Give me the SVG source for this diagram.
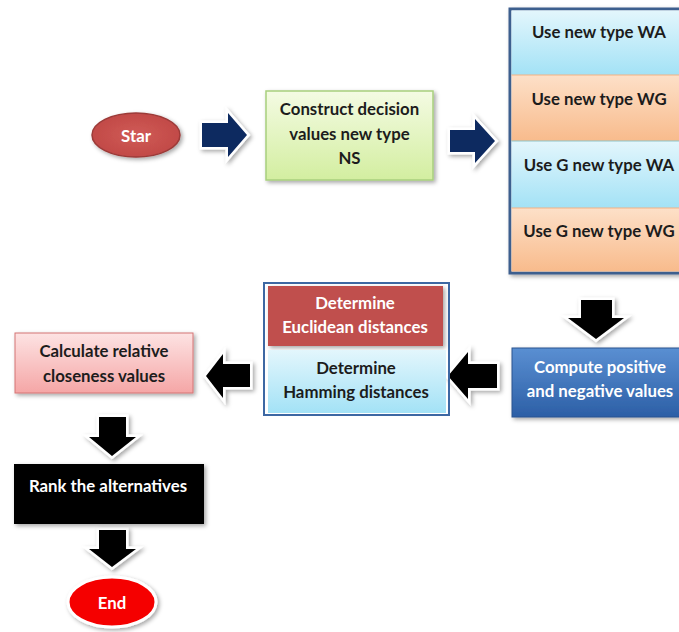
<svg xmlns="http://www.w3.org/2000/svg" width="679" height="632" viewBox="0 0 679 632">
<defs>
<filter id="sh" x="-20%" y="-20%" width="150%" height="150%"><feDropShadow dx="2" dy="2" stdDeviation="2" flood-color="#000" flood-opacity="0.35"/></filter>
<linearGradient id="gGreen" x1="0" y1="0" x2="0" y2="1"><stop offset="0" stop-color="#f4fbe3"/><stop offset="1" stop-color="#d3eea0"/></linearGradient>
<linearGradient id="gBlue" x1="0" y1="0" x2="0" y2="1"><stop offset="0" stop-color="#e3f6fc"/><stop offset="1" stop-color="#a3e2f6"/></linearGradient>
<linearGradient id="gPeach" x1="0" y1="0" x2="0" y2="1"><stop offset="0" stop-color="#fde0c8"/><stop offset="1" stop-color="#f8bb8c"/></linearGradient>
<linearGradient id="gPink" x1="0" y1="0" x2="0" y2="1"><stop offset="0" stop-color="#fde3e3"/><stop offset="1" stop-color="#f5a6a6"/></linearGradient>
<linearGradient id="gDark" x1="0" y1="0" x2="0" y2="1"><stop offset="0" stop-color="#5a8fd2"/><stop offset="1" stop-color="#2c5fa6"/></linearGradient>
<radialGradient id="gStar" cx="0.5" cy="0.5" r="0.6"><stop offset="0" stop-color="#d05a57"/><stop offset="1" stop-color="#bf4744"/></radialGradient>
</defs>
<style>
text{font-family:Lato,"Open Sans","Liberation Sans",sans-serif;font-weight:bold;font-size:16.8px;text-anchor:middle;dominant-baseline:central}
.dk{fill:#1c1c1c}
.wt{fill:#ffffff}
.arw{stroke:#ffffff;stroke-width:5;stroke-linejoin:miter;paint-order:stroke;filter:url(#sh)}
.navy{fill:#0f2a60}
.blk{fill:#000000}
.sec{stroke:none}
</style>

<g id="connectors">
<path class="arw navy" d="M202,123 H228 V113 L247,135 L228,157 V147 H202 Z"/>
<path class="arw navy" d="M450,130 H475 V119 L495,141 L475,163 V152 H450 Z"/>
<path class="arw blk" d="M581,300 H612 V318 H624 L596,339 L568,318 H581 Z"/>
<path class="arw blk" d="M497,364 H468 V352 L448,376 L468,399 V388 H497 Z"/>
<path class="arw blk" d="M250,364 H223 V354 L206,376 L223,398 V387 H250 Z"/>
<path class="arw blk" d="M99,417 H126 V437 H136 L112,456 L89,437 H99 Z"/>
<path class="arw blk" d="M99,530 H126 V549 H136 L112,567 L89,549 H99 Z"/>
</g>

<g id="start">
<ellipse cx="136" cy="135" rx="44" ry="22" fill="url(#gStar)" stroke="#9c3a38" stroke-width="1.5" filter="url(#sh)"/>
<text class="wt" x="136" y="135">Star</text>
</g>

<g id="construct">
<rect x="266" y="91" width="167" height="89" fill="url(#gGreen)" stroke="#a8cf7e" stroke-width="1.5" filter="url(#sh)"/>
<text class="dk" x="349.5" y="108">Construct decision</text>
<text class="dk" x="349.5" y="133">values new type</text>
<text class="dk" x="349.5" y="157">NS</text>
</g>

<g id="operators">
<rect x="510" y="9" width="172" height="264" fill="#fff" stroke="#3d5f8e" stroke-width="3" filter="url(#sh)"/>
<rect class="sec" x="511.5" y="10.5" width="170" height="64.5" fill="url(#gBlue)"/>
<rect class="sec" x="511.5" y="75" width="170" height="66" fill="url(#gPeach)"/>
<rect class="sec" x="511.5" y="141" width="170" height="67" fill="url(#gBlue)"/>
<rect class="sec" x="511.5" y="208" width="170" height="63.5" fill="url(#gPeach)"/>
<line x1="511.5" y1="75" x2="681" y2="75" stroke="#f4b183" stroke-width="1"/>
<line x1="511.5" y1="141" x2="681" y2="141" stroke="#8fc4c8" stroke-width="1"/>
<line x1="511.5" y1="208" x2="681" y2="208" stroke="#f4b183" stroke-width="1"/>
<text class="dk" x="599" y="31">Use new type WA</text>
<text class="dk" x="599" y="98">Use new type WG</text>
<text class="dk" x="599" y="164">Use G new type WA</text>
<text class="dk" x="599" y="230">Use G new type WG</text>
</g>

<g id="compute">
<rect x="512" y="348" width="170" height="69" fill="url(#gDark)" stroke="#2a5590" stroke-width="1" filter="url(#sh)"/>
<text class="wt" x="600" y="366">Compute positive</text>
<text class="wt" x="600" y="390">and negative values</text>
</g>

<g id="distances">
<rect x="264" y="283" width="185" height="132" fill="none" stroke="#3d68a3" stroke-width="2"/>
<rect x="268" y="286" width="175" height="60" fill="#c0504d" filter="url(#sh)"/>
<rect x="268" y="350" width="178" height="63" fill="url(#gBlue)"/>
<text class="wt" x="355" y="302">Determine</text>
<text class="wt" x="355" y="326">Euclidean distances</text>
<text class="dk" x="356" y="367">Determine</text>
<text class="dk" x="356" y="391">Hamming distances</text>
</g>

<g id="closeness">
<rect x="15" y="333" width="178" height="60" fill="url(#gPink)" stroke="#d47474" stroke-width="1" filter="url(#sh)"/>
<text class="dk" x="104" y="350">Calculate relative</text>
<text class="dk" x="104" y="375">closeness values</text>
</g>

<g id="rank">
<rect x="14" y="464" width="190" height="60" fill="#000" filter="url(#sh)"/>
<text class="wt" x="108" y="485">Rank the alternatives</text>
</g>

<g id="end">
<ellipse cx="112" cy="602" rx="44" ry="25" fill="#f50000" stroke="#ffffff" stroke-width="3" filter="url(#sh)"/>
<text class="wt" x="112" y="602">End</text>
</g>
</svg>
